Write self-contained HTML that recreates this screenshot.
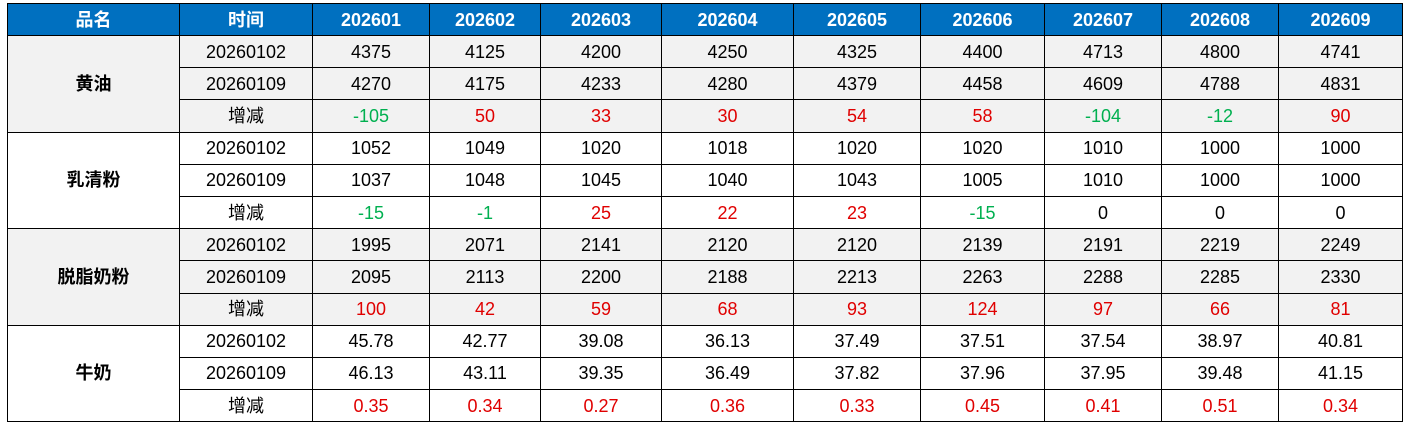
<!DOCTYPE html>
<html><head><meta charset="utf-8"><style>
html,body{margin:0;padding:0;background:#fff;width:1406px;height:428px;overflow:hidden}
table{position:absolute;left:7px;top:3px;border-collapse:collapse;table-layout:fixed;font-family:"Liberation Sans","Noto Sans CJK SC",sans-serif;font-size:18px;color:#000}
td,th{border:1.5px solid #000;text-align:center;padding:0;height:31.2px;line-height:30px;overflow:hidden;white-space:nowrap}
th{background:#0070c0;color:#fff;font-weight:bold;height:31px;border-color:#000}
.g td{background:#f2f2f2}
.w td{background:#fff}
td.n{font-weight:bold}
.r{color:#e00000}.gr{color:#00b050}
</style></head><body>
<table>
<colgroup><col style="width:172px"><col style="width:133px"><col style="width:117px"><col style="width:111px"><col style="width:121px"><col style="width:132px"><col style="width:127px"><col style="width:124px"><col style="width:117px"><col style="width:117px"><col style="width:124px"></colgroup>
<tr><th>品名</th><th>时间</th><th>202601</th><th>202602</th><th>202603</th><th>202604</th><th>202605</th><th>202606</th><th>202607</th><th>202608</th><th>202609</th></tr>
<tbody class="g">
<tr><td rowspan="3" class="n">黄油</td><td>20260102</td><td>4375</td><td>4125</td><td>4200</td><td>4250</td><td>4325</td><td>4400</td><td>4713</td><td>4800</td><td>4741</td></tr>
<tr><td>20260109</td><td>4270</td><td>4175</td><td>4233</td><td>4280</td><td>4379</td><td>4458</td><td>4609</td><td>4788</td><td>4831</td></tr>
<tr><td>增减</td><td class="gr">-105</td><td class="r">50</td><td class="r">33</td><td class="r">30</td><td class="r">54</td><td class="r">58</td><td class="gr">-104</td><td class="gr">-12</td><td class="r">90</td></tr>
</tbody>
<tbody class="w">
<tr><td rowspan="3" class="n">乳清粉</td><td>20260102</td><td>1052</td><td>1049</td><td>1020</td><td>1018</td><td>1020</td><td>1020</td><td>1010</td><td>1000</td><td>1000</td></tr>
<tr><td>20260109</td><td>1037</td><td>1048</td><td>1045</td><td>1040</td><td>1043</td><td>1005</td><td>1010</td><td>1000</td><td>1000</td></tr>
<tr><td>增减</td><td class="gr">-15</td><td class="gr">-1</td><td class="r">25</td><td class="r">22</td><td class="r">23</td><td class="gr">-15</td><td>0</td><td>0</td><td>0</td></tr>
</tbody>
<tbody class="g">
<tr><td rowspan="3" class="n">脱脂奶粉</td><td>20260102</td><td>1995</td><td>2071</td><td>2141</td><td>2120</td><td>2120</td><td>2139</td><td>2191</td><td>2219</td><td>2249</td></tr>
<tr><td>20260109</td><td>2095</td><td>2113</td><td>2200</td><td>2188</td><td>2213</td><td>2263</td><td>2288</td><td>2285</td><td>2330</td></tr>
<tr><td>增减</td><td class="r">100</td><td class="r">42</td><td class="r">59</td><td class="r">68</td><td class="r">93</td><td class="r">124</td><td class="r">97</td><td class="r">66</td><td class="r">81</td></tr>
</tbody>
<tbody class="w">
<tr><td rowspan="3" class="n">牛奶</td><td>20260102</td><td>45.78</td><td>42.77</td><td>39.08</td><td>36.13</td><td>37.49</td><td>37.51</td><td>37.54</td><td>38.97</td><td>40.81</td></tr>
<tr><td>20260109</td><td>46.13</td><td>43.11</td><td>39.35</td><td>36.49</td><td>37.82</td><td>37.96</td><td>37.95</td><td>39.48</td><td>41.15</td></tr>
<tr><td>增减</td><td class="r">0.35</td><td class="r">0.34</td><td class="r">0.27</td><td class="r">0.36</td><td class="r">0.33</td><td class="r">0.45</td><td class="r">0.41</td><td class="r">0.51</td><td class="r">0.34</td></tr>
</tbody>
</table>
</body></html>
